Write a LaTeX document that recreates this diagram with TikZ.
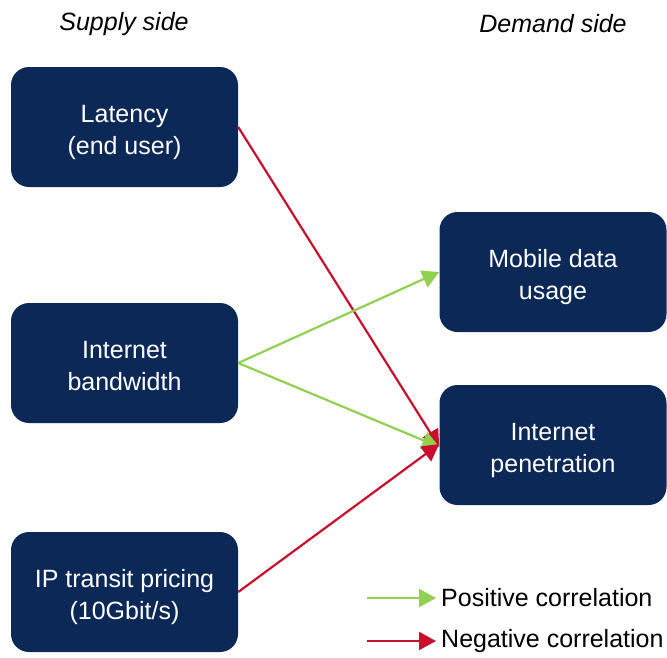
\documentclass[tikz,border=0pt]{standalone}
\usepackage{fontspec}
\setmainfont{Liberation Sans}
\usetikzlibrary{arrows.meta}
\definecolor{navy}{RGB}{11,40,87}
\definecolor{posgreen}{RGB}{146,208,80}
\definecolor{negred}{RGB}{200,16,46}
% two centred lines, set a little below the optical centre of the box
\newcommand\boxlines[1]{\raisebox{-5pt}[\height][\depth]{\begin{tabular}{@{}c@{}}#1\end{tabular}}}
\begin{document}
\begin{tikzpicture}[x=1pt,y=-1pt,
  factor/.style={fill=navy,rounded corners=18pt,minimum width=227pt,minimum height=120pt,
    text=white,font=\fontsize{25}{32.5}\selectfont,inner sep=0pt},
  header/.style={font=\fontsize{25}{30}\selectfont\itshape},
  legendtext/.style={font=\fontsize{25}{30}\selectfont,anchor=west,inner sep=5pt},
  link/.style={line width=2.2pt,-{Triangle[length=17pt,width=18pt]}},
  poslink/.style={link,posgreen},
  neglink/.style={link,negred}]
\useasboundingbox (0,0) rectangle (667,657);

% column headers
\node[header] (hs) at (124,24) {Supply side};
\node[header] (hd) at (553,24) {Demand side};

% supply-side factors
\node[factor] (lat) at (124.5,127) {\boxlines{Latency\\(end user)}};
\node[factor] (bw)  at (124.5,363) {\boxlines{Internet\\bandwidth}};
\node[factor] (ip)  at (124.5,592) {\boxlines{IP transit pricing\\(10Gbit/s)}};

% demand-side outcomes
\node[factor] (mob) at (553,272) {\boxlines{Mobile data\\usage}};
\node[factor] (pen) at (553,445) {\boxlines{Internet\\penetration}};

% correlations
\draw[neglink] (lat.east) -- ([yshift=-2pt]pen.west);
\draw[poslink] (bw.east) -- (mob.west);
\draw[poslink] (bw.east) -- ([yshift=-2pt]pen.west);
\draw[neglink] (ip.east) -- ([yshift=1pt]pen.west);

% legend
\node[legendtext] (lp) at (436,598) {Positive correlation};
\node[legendtext] (ln) at (436,641) {Negative correlation};
\coordinate (lps) at (367,598);
\coordinate (lns) at (367,641);
\draw[poslink] (lps) -- (lp.west);
\draw[neglink] (lns) -- (ln.west);
\end{tikzpicture}
\end{document}
